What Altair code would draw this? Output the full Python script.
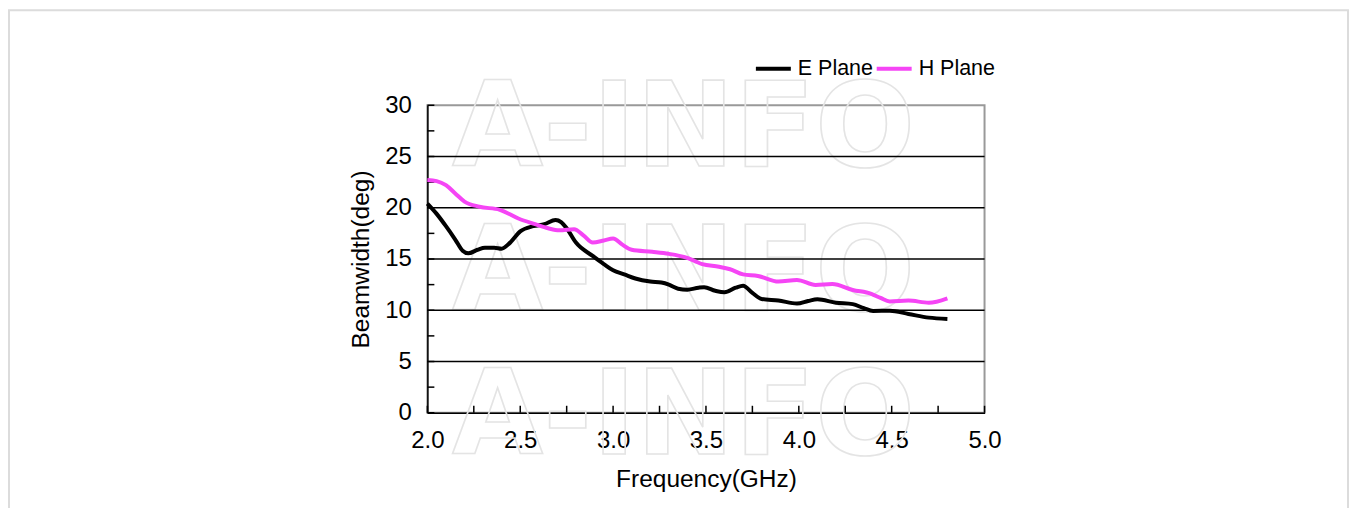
import altair as alt
import pandas as pd

# ---- data ----
e_freq = [2.00, 2.05, 2.10, 2.15, 2.19, 2.22, 2.27, 2.31, 2.36, 2.40, 2.44, 2.50, 2.57, 2.63,
          2.69, 2.72, 2.75, 2.80, 2.89, 2.95, 3.00, 3.06, 3.12, 3.20, 3.26, 3.30, 3.35, 3.40,
          3.46, 3.49, 3.55, 3.60, 3.66, 3.70, 3.75, 3.80, 3.89, 3.99, 4.05, 4.10, 4.20, 4.29,
          4.35, 4.40, 4.49, 4.59, 4.70, 4.80]
e_bw = [20.4, 19.4, 18.2, 16.9, 15.8, 15.55, 15.9, 16.1, 16.1, 16.0, 16.5, 17.7, 18.2, 18.4,
        18.8, 18.6, 18.0, 16.6, 15.3, 14.5, 13.9, 13.5, 13.1, 12.8, 12.7, 12.5, 12.1, 12.0,
        12.2, 12.25, 11.9, 11.75, 12.2, 12.4, 11.7, 11.1, 10.95, 10.65, 10.9, 11.07, 10.74, 10.6,
        10.2, 9.93, 9.95, 9.64, 9.28, 9.15]

h_freq = [2.00, 2.05, 2.10, 2.15, 2.20, 2.28, 2.39, 2.49, 2.58, 2.65, 2.71, 2.79, 2.84, 2.89,
          2.95, 3.00, 3.05, 3.10, 3.21, 3.30, 3.39, 3.44, 3.48, 3.57, 3.63, 3.70, 3.78, 3.89,
          3.99, 4.09, 4.18, 4.29, 4.39, 4.44, 4.49, 4.59, 4.70, 4.80]
h_bw = [22.7, 22.6, 22.2, 21.4, 20.6, 20.1, 19.8, 18.95, 18.4, 18.0, 17.8, 17.9, 17.3, 16.6,
        16.8, 17.0, 16.4, 15.9, 15.7, 15.5, 15.15, 14.8, 14.5, 14.25, 14.0, 13.5, 13.35, 12.8,
        12.95, 12.47, 12.56, 11.98, 11.6, 11.2, 10.85, 10.94, 10.74, 11.17]

series_names = ["E Plane", "H Plane"]
series_colors = ["#000000", "#f545f5"]

x_labels = [2.0, 2.5, 3.0, 3.5, 4.0, 4.5, 5.0]
y_labels = [0, 5, 10, 15, 20, 25, 30]
grid_vals = [5, 10, 15, 20, 25]
x_minor = [2.0, 2.25, 2.5, 2.75, 3.0, 3.25, 3.5, 3.75, 4.0, 4.25, 4.5, 4.75, 5.0]
y_minor = [0, 2.5, 5, 7.5, 10, 12.5, 15, 17.5, 20, 22.5, 25, 27.5, 30]

wm_text = ["A-INFO", "A-INFO", "A-INFO"]
wm_x = [3.38, 3.38, 3.38]
wm_y = [27.5, 13.4, -0.6]

# ---- build tables ----
lines_df = pd.DataFrame({
    "freq": e_freq + h_freq,
    "bw": e_bw + h_bw,
    "series": [series_names[0]] * len(e_freq) + [series_names[1]] * len(h_freq),
})
grid_df = pd.DataFrame({"g": grid_vals})
xt_df = pd.DataFrame({"xt": x_minor})
yt_df = pd.DataFrame({"yt": y_minor})
wm_df = pd.DataFrame({"t": wm_text, "wx": wm_x, "wy": wm_y})
one_df = pd.DataFrame({"a": [0]})

W, H = 558, 308
FONT = "Liberation Sans"

xscale = alt.Scale(domain=[2, 5], nice=False, zero=False)
yscale = alt.Scale(domain=[0, 30], nice=False)
x_axis = alt.Axis(values=x_labels, format=".1f", grid=False, ticks=False,
                  labelFlush=False, labelOverlap=False,
                  labelPadding=16, titlePadding=15)
y_axis = alt.Axis(values=y_labels, grid=False, ticks=False,
                  labelFlush=False, labelOverlap=False,
                  labelPadding=16, titlePadding=11)
XT = "Frequency(GHz)"
YT = "Beamwidth(deg)"

frame = alt.Chart(one_df).mark_rect(
    fillOpacity=0, stroke="#dcdcdc", strokeWidth=2
).encode(
    x=alt.value(-419), x2=alt.value(922), y=alt.value(-95), y2=alt.value(520)
)

watermark = alt.Chart(wm_df).mark_text(
    font="DejaVu Sans", fontWeight="bold", fontSize=118, fillOpacity=0,
    stroke="#e4e4e4", strokeWidth=1.6, baseline="middle", align="center"
).encode(
    x=alt.X("wx:Q", scale=xscale, axis=x_axis, title=XT),
    y=alt.Y("wy:Q", scale=yscale, axis=y_axis, title=YT),
    text="t:N",
)

grid = alt.Chart(grid_df).mark_rule(color="#000000", strokeWidth=1.5).encode(
    y=alt.Y("g:Q", scale=yscale, axis=y_axis, title=YT)
)

xticks = alt.Chart(xt_df).mark_rule(color="#000000", strokeWidth=1.5).encode(
    x=alt.X("xt:Q", scale=xscale, axis=x_axis, title=XT), y=alt.value(H), y2=alt.value(H - 7)
)
yticks = alt.Chart(yt_df).mark_rule(color="#000000", strokeWidth=1.5).encode(
    y=alt.Y("yt:Q", scale=yscale, axis=y_axis, title=YT), x=alt.value(0), x2=alt.value(7)
)

lines = alt.Chart(lines_df).mark_line(strokeWidth=4, interpolate="monotone").encode(
    x=alt.X("freq:Q", scale=xscale, title=XT, axis=x_axis),
    y=alt.Y("bw:Q", scale=yscale, title=YT, axis=y_axis),
    color=alt.Color("series:N",
                    scale=alt.Scale(domain=series_names, range=series_colors),
                    legend=alt.Legend(orient="none", legendX=327, legendY=-56,
                                      direction="horizontal", title=None,
                                      symbolType="stroke", symbolSize=1225,
                                      symbolStrokeWidth=4, labelFontSize=21.5,
                                      labelFont=FONT, labelColor="#000000",
                                      labelOffset=5, columnPadding=-5)),
)

chart = alt.layer(frame, watermark, grid, xticks, yticks, lines).properties(
    width=W, height=H,
    padding={"left": 420, "top": 97, "right": 365, "bottom": 95},
    autosize=alt.AutoSizeParams(type="none"),
    background="#ffffff",
).configure_view(
    stroke="#999999", strokeWidth=2
).configure_axis(
    domainColor="#000000", domainWidth=1.5,
    labelFont=FONT, labelFontSize=24, labelColor="#000000",
    titleFont=FONT, titleFontSize=24.5, titleColor="#000000", titleFontWeight="normal",
)

chart.save("out.html", embed_options={"renderer": "svg", "actions": False})
